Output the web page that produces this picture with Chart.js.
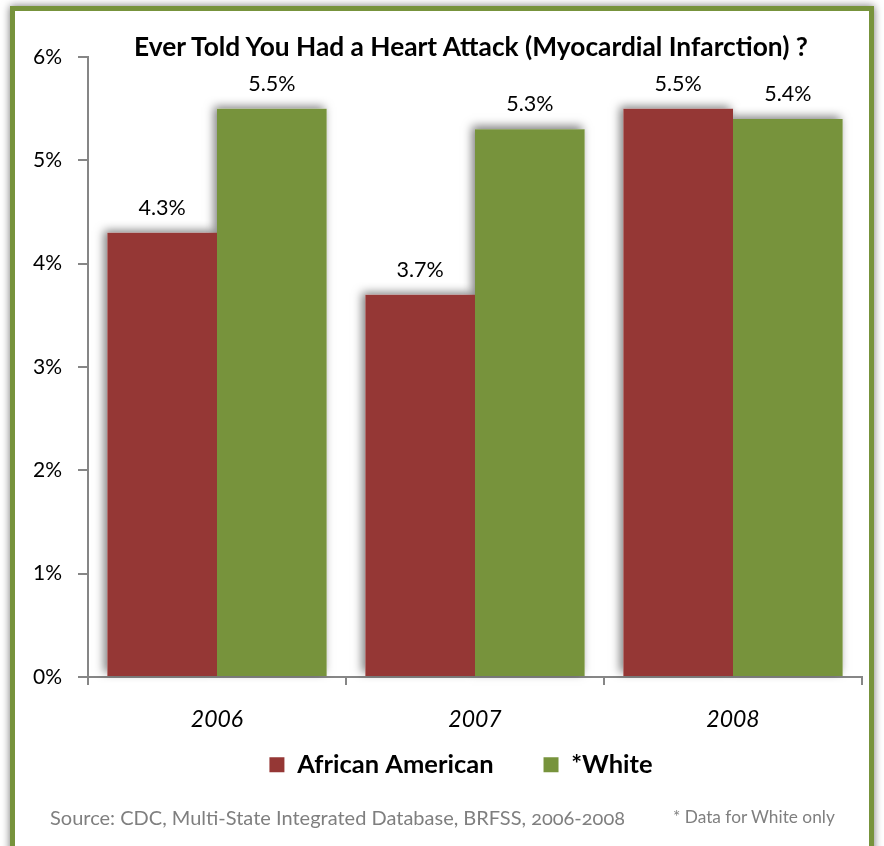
<!DOCTYPE html>
<html>
<head>
<meta charset="utf-8">
<script src="https://cdn.jsdelivr.net/npm/chart.js@4.4.1/dist/chart.umd.min.js"></script>
<style>
    html, body { margin: 0; padding: 0; background: #ffffff; overflow: hidden; }
    body { width: 884px; height: 846px; position: relative; font-family: Lato, "Open Sans", sans-serif; }
    .cadre {
        position: absolute; left: 10px; top: 6px; width: 854px; height: 860px;
        border: 5px solid #77933C; box-shadow: 0 0 8px rgba(0,0,0,0.55); background: #fff;
    }
    .titre {
        position: absolute; left: 0; width: 884px; top: 31px; text-align: center; line-height: 30px;
        font-weight: bold; font-size: 26.3px; color: #000; padding-left: 58px; box-sizing: border-box;
    }
    .zone { position: absolute; left: 0; top: 0; width: 884px; height: 840px; }
    .source { position: absolute; top: 804px; left: 50px; font-size: 20px; line-height: 26px; color: #7f7f7f; font-variant-numeric: oldstyle-nums; }
    .note { position: absolute; top: 805px; left: 673px; font-size: 17.3px; line-height: 24px; color: #7f7f7f; }
</style>
</head>
<body>
<div class="cadre"></div>
<div class="zone"><canvas id="graphique" width="884" height="840"></canvas></div>
<div class="titre">Ever Told You Had a Heart Attack (Myocardial Infarction) ?</div>
<div class="source">Source: CDC, Multi-State Integrated Database, BRFSS, 2006-2008</div>
<div class="note">* Data for White only</div>
<script>
const annees = ["2006", "2007", "2008"];
const africainAmericain = [4.3, 3.7, 5.5];
const blanc = [5.5, 5.3, 5.4];
const graduations = [0, 1, 2, 3, 4, 5, 6];

const police = "Lato, 'Open Sans', sans-serif";
const grisAxe = "#868686";

// ombre portée derrière les barres
const ombreBarres = {
    id: "ombreBarres",
    beforeDatasetsDraw(chart) {
        const ctx = chart.ctx;
        ctx.save();
        ctx.shadowColor = "rgba(0,0,0,0.5)";
        ctx.shadowBlur = 9;
        ctx.shadowOffsetX = -3;
        ctx.shadowOffsetY = -3;
        ctx.fillStyle = "#ffffff";
        chart.data.datasets.forEach((ds, i) => {
            chart.getDatasetMeta(i).data.forEach(barre => {
                const p = barre.getProps(["x", "y", "base", "width"], true);
                ctx.fillRect(p.x - p.width / 2, p.y, p.width, p.base - p.y);
            });
        });
        ctx.restore();
    }
};

// valeurs au-dessus des barres
const etiquettes = {
    id: "etiquettes",
    afterDatasetsDraw(chart) {
        const ctx = chart.ctx;
        ctx.save();
        ctx.font = "21.5px " + police;
        ctx.fillStyle = "#000";
        ctx.textAlign = "center";
        ctx.textBaseline = "middle";
        chart.data.datasets.forEach((ds, i) => {
            chart.getDatasetMeta(i).data.forEach((barre, j) => {
                ctx.fillText(ds.data[j].toFixed(1) + "%", barre.x, barre.y - 25);
            });
        });
        ctx.restore();
    }
};

// rapproche la légende des années, comme dans l'original
const decalerLegende = {
    id: "decalerLegende",
    afterLayout(chart) {
        const leg = chart.legend;
        const dy = leg.top - 702;
        const dx = 30;
        leg.top -= dy; leg.bottom -= dy;
        leg.left += dx; leg.right += dx;
    }
};

const canvas = document.getElementById("graphique");
new Chart(canvas.getContext("2d"), {
    type: "bar",
    data: {
        labels: annees,
        datasets: [
            { label: "African American", data: africainAmericain, backgroundColor: "#953735" },
            { label: "*White", data: blanc, backgroundColor: "#77933C" }
        ]
    },
    options: {
        responsive: false,
        animation: false,
        devicePixelRatio: 1,
        layout: { padding: { top: 57, right: 22, left: 0, bottom: 0 } },
        datasets: { bar: { categoryPercentage: 0.85, barPercentage: 1 } },
        scales: {
            x: {
                grid: { offset: true, drawOnChartArea: false, tickLength: 8, color: grisAxe, lineWidth: 2 },
                border: { color: grisAxe, width: 2 },
                ticks: { color: "#000", font: { family: police, size: 23, style: "italic" }, padding: 21 }
            },
            y: {
                min: 0,
                max: 6,
                afterFit(scale) { scale.width = 88; },
                afterBuildTicks(scale) { scale.ticks = graduations.map(v => ({ value: v })); },
                grid: { drawOnChartArea: false, tickLength: 10, color: grisAxe, lineWidth: 2 },
                border: { color: grisAxe, width: 2 },
                ticks: {
                    color: "#000",
                    font: { family: police, size: 21 },
                    padding: 16,
                    callback: v => v + "%"
                }
            }
        },
        plugins: {
            legend: {
                position: "bottom",
                labels: {
                    color: "#000",
                    font: { family: police, size: 25.5, weight: "bold" },
                    boxWidth: 15,
                    boxHeight: 15,
                    padding: 50
                }
            },
            tooltip: { enabled: false }
        }
    },
    plugins: [ombreBarres, etiquettes, decalerLegende]
});
</script>
</body>
</html>
